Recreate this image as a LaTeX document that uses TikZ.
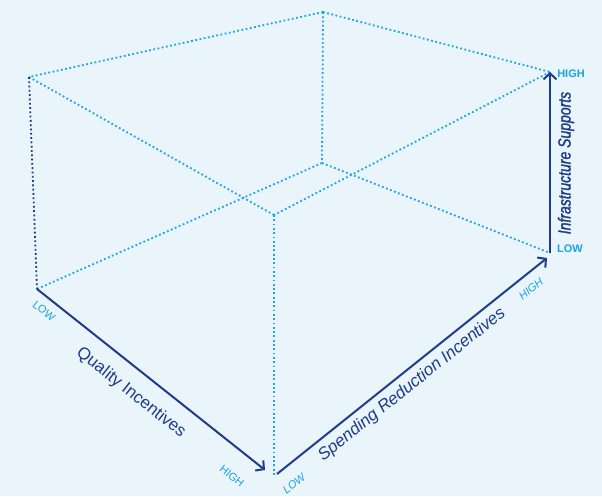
\documentclass[tikz,border=0pt]{standalone}
\usepackage{fontspec}
\setmainfont{Liberation Sans}
\newfontfamily\condit{Liberation Sans}[FakeStretch=0.8, FakeBold=1.5, ItalicFeatures={FakeStretch=0.8, FakeBold=1.5}]
\usetikzlibrary{arrows.meta}
\definecolor{bgc}{HTML}{E9F4FB}
\definecolor{navy}{HTML}{1F3C88}
\definecolor{dotc}{HTML}{1CA6E6}
\definecolor{labc}{HTML}{1AA3E0}
\tikzset{
  dotline/.style={draw=dotc, line width=1.8pt, dash pattern=on 1.8pt off 2.5pt},
  darkdot/.style={draw=navy, line width=1.8pt, dash pattern=on 1.8pt off 2.5pt},
  axisline/.style={draw=navy, line width=2pt, -{Straight Barb[length=6pt,width=13pt]}},
  axtitle/.style={text=navy, inner sep=0pt, font=\fontsize{17}{20}\selectfont},
  endlab/.style={text=labc, inner sep=0pt, font=\fontsize{11}{13}\selectfont},
}
\begin{document}
\begin{tikzpicture}[x=1pt,y=-1pt]
\fill[bgc] (0,0) rectangle (602,496);
\useasboundingbox (0,0) rectangle (602,496);
% box vertices
\coordinate (T)  at (323,12);
\coordinate (TL) at (29,77);
\coordinate (TR) at (550,72);
\coordinate (BK) at (322,163);
\coordinate (TF) at (274,215);
\coordinate (BL) at (37,289);
\coordinate (BF) at (274,475);
\coordinate (BR) at (550,253);
\coordinate (QH) at (265,470);
\coordinate (SL) at (277,474);
\coordinate (SH) at (547,258);
% dotted edges
\draw[dotline] (T) -- (TL);
\draw[dotline] (T) -- (TR);
\draw[dotline] (T) -- (BK);
\draw[dotline] (TL) -- (TF);
\draw[dotline] (TR) -- (TF);
\draw[dotline] (BK) -- (BL);
\draw[dotline] (BK) -- (BR);
\draw[dotline] (TF) -- (BF);
\draw[darkdot] (TL) -- (BL);
% axes
\draw[axisline] (BL) -- (QH);
\draw[axisline] (SL) -- (SH);
\draw[axisline] (BR) -- (TR);
% labels
\node[axtitle, rotate=-38.4] (qt) at (131,393) {Quality Incentives};
\node[endlab, rotate=-38.4] (ql) at (44,311) {LOW};
\node[endlab, rotate=-38.4] (qh) at (232,476) {HIGH};
\node[axtitle, font=\fontsize{17}{20}\selectfont\itshape, rotate=38.7] (st) at (412,385) {Spending Reduction Incentives};
\node[endlab, font=\fontsize{11}{13}\selectfont\itshape, rotate=38.7] (sl) at (294,484) {LOW};
\node[endlab, font=\fontsize{11}{13}\selectfont\itshape, rotate=38.7] (sh) at (531,289) {HIGH};
\node[axtitle, font=\fontsize{17.5}{20}\condit\itshape, rotate=90] (it) at (566,163) {Infrastructure Supports};
\node[endlab, font=\fontsize{11}{13}\selectfont\bfseries] (ih) at (571,74) {HIGH};
\node[endlab, font=\fontsize{11}{13}\selectfont\bfseries] (il) at (570,249) {LOW};
\end{tikzpicture}
\end{document}
